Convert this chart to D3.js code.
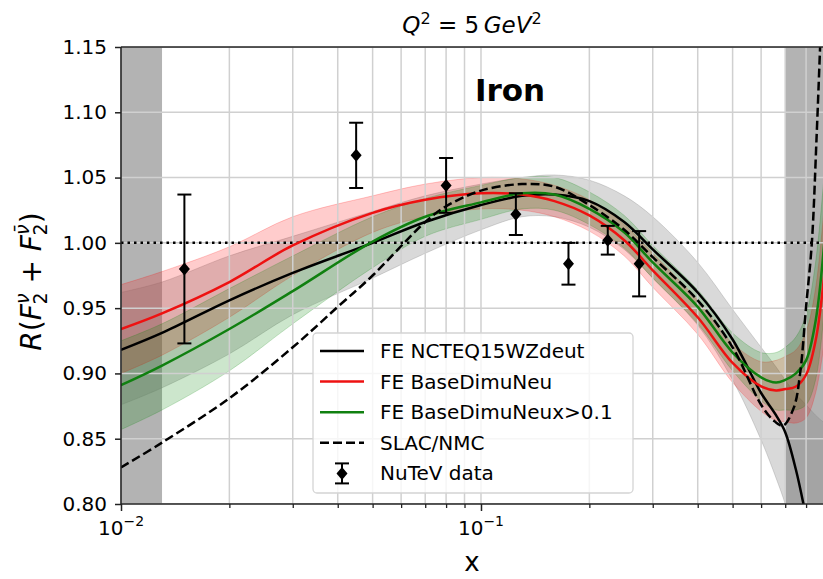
<!DOCTYPE html>
<html>
<head>
<meta charset="utf-8">
<script src="https://cdn.jsdelivr.net/npm/d3@7"></script>
<style>
    body { margin: 0; background: #fff; }
    svg text { font-family: "DejaVu Sans", sans-serif; fill: #000; }
</style>
</head>
<body>
<div id="chart"></div>
<script>

// x grid shared by the three FE curves
const xGrid = [0.01, 0.013, 0.02, 0.03, 0.05, 0.07, 0.1, 0.13, 0.16, 0.2, 0.25, 0.3, 0.4, 0.5, 0.6, 0.66, 0.7, 0.75, 0.8, 0.85, 0.9];

// FE NCTEQ15WZdeut
const ncteqMid  = [0.918, 0.931, 0.956, 0.977, 1.000, 1.016, 1.029, 1.036, 1.037, 1.032, 1.016, 0.995, 0.962, 0.926, 0.885, 0.868, 0.855, 0.826, 0.790, 0.752, 0.715];
const ncteqLow  = [0.876, 0.889, 0.915, 0.945, 0.973, 0.992, 1.010, 1.020, 1.020, 1.012, 0.995, 0.973, 0.937, 0.895, 0.849, 0.820, 0.800, 0.770, 0.740, 0.700, 0.670];
const ncteqHigh = [0.962, 0.970, 0.990, 1.005, 1.024, 1.036, 1.045, 1.050, 1.052, 1.048, 1.036, 1.020, 0.985, 0.949, 0.920, 0.905, 0.895, 0.884, 0.876, 0.868, 0.862];

// FE BaseDimuNeu
const baseMid  = [0.934, 0.946, 0.970, 0.998, 1.023, 1.033, 1.038, 1.037, 1.032, 1.021, 1.002, 0.979, 0.943, 0.908, 0.890, 0.887, 0.888, 0.890, 0.899, 0.925, 0.977];
const baseLow  = [0.900, 0.914, 0.943, 0.975, 1.008, 1.020, 1.026, 1.025, 1.020, 1.009, 0.990, 0.966, 0.930, 0.893, 0.871, 0.864, 0.863, 0.862, 0.866, 0.885, 0.925];
const baseHigh = [0.968, 0.978, 0.997, 1.020, 1.036, 1.045, 1.050, 1.049, 1.044, 1.033, 1.014, 0.992, 0.956, 0.923, 0.909, 0.910, 0.913, 0.918, 0.932, 0.965, 1.030];

// FE BaseDimuNeux>0.1
const cutMid  = [0.891, 0.906, 0.934, 0.963, 1.001, 1.020, 1.031, 1.038, 1.037, 1.026, 1.008, 0.985, 0.951, 0.916, 0.897, 0.893, 0.895, 0.900, 0.910, 0.940, 1.002];
const cutLow  = [0.857, 0.872, 0.902, 0.938, 0.981, 1.005, 1.018, 1.026, 1.025, 1.014, 0.996, 0.973, 0.938, 0.902, 0.879, 0.872, 0.872, 0.872, 0.876, 0.895, 0.950];
const cutHigh = [0.925, 0.938, 0.965, 0.990, 1.020, 1.034, 1.044, 1.050, 1.050, 1.039, 1.021, 0.998, 0.964, 0.931, 0.916, 0.916, 0.920, 0.928, 0.945, 0.985, 1.055];

// SLAC/NMC
const slacX = [0.01, 0.013, 0.02, 0.03, 0.04, 0.05, 0.07, 0.08, 0.1, 0.13, 0.16, 0.2, 0.25, 0.3, 0.4, 0.5, 0.6, 0.65, 0.69, 0.74, 0.77, 0.8, 0.83, 0.855, 0.875];
const slacY = [0.828, 0.847, 0.881, 0.920, 0.951, 0.975, 1.016, 1.028, 1.040, 1.045, 1.043, 1.029, 1.010, 0.989, 0.956, 0.920, 0.876, 0.864, 0.860, 0.874, 0.900, 0.951, 1.000, 1.079, 1.150];

// NuTeV data
const nutevX   = [0.015, 0.045, 0.080, 0.125, 0.175, 0.225, 0.275];
const nutevY   = [0.980, 1.067, 1.044, 1.022, 0.984, 1.002, 0.984];
const nutevErr = [0.057, 0.025, 0.021, 0.016, 0.016, 0.011, 0.025];

// axes
const yTicks = [0.80, 0.85, 0.90, 0.95, 1.00, 1.05, 1.10, 1.15];
const xMajor = [0.01, 0.1];
const xMajorExp = ["\u22122", "\u22121"];
const xMinor = [0.02, 0.03, 0.04, 0.05, 0.06, 0.07, 0.08, 0.09, 0.2, 0.3, 0.4, 0.5, 0.6, 0.7, 0.8];
const shadeRanges = [[0.01, 0.013], [0.7, 0.9]];

const legendLabels = ["FE NCTEQ15WZdeut", "FE BaseDimuNeu", "FE BaseDimuNeux>0.1", "SLAC/NMC", "NuTeV data"];


let width = 823, height = 579;
let plot = {left: 121, right: 824.5, top: 47, bottom: 504};

let svg = d3.select("#chart").append("svg")
    .attr("width", width)
    .attr("height", height);

let x = d3.scaleLog().domain([0.01, 0.9]).range([plot.left, plot.right]);
let y = d3.scaleLinear().domain([0.80, 1.15]).range([plot.bottom, plot.top]);

svg.append("clipPath").attr("id", "clip")
    .append("rect")
    .attr("x", plot.left).attr("y", plot.top)
    .attr("width", plot.right - plot.left).attr("height", plot.bottom - plot.top);

let g = svg.append("g").attr("clip-path", "url(#clip)");

// excluded regions
g.selectAll(".shade")
    .data(shadeRanges)
    .enter().append("rect")
    .attr("class", "shade")
    .attr("x", d => x(d[0]))
    .attr("width", d => x(d[1]) - x(d[0]))
    .attr("y", plot.top)
    .attr("height", plot.bottom - plot.top)
    .attr("fill", "rgba(128,128,128,0.6)");

// series
let series = [
    {mid: ncteqMid, low: ncteqLow, high: ncteqHigh, color: "#000000", band: "rgba(128,128,128,0.3)"},
    {mid: baseMid, low: baseLow, high: baseHigh, color: "#ee1111", band: "rgba(255,0,0,0.2)"},
    {mid: cutMid, low: cutLow, high: cutHigh, color: "#108010", band: "rgba(0,128,0,0.2)"}
];
series.forEach(s => {
    s.points = xGrid.map((xv, i) => ({x: xv, y: s.mid[i], lo: s.low[i], hi: s.high[i]}));
});

let area = d3.area()
    .x(d => x(d.x))
    .y0(d => y(d.lo))
    .y1(d => y(d.hi))
    .curve(d3.curveCatmullRom.alpha(0.5));

let line = d3.line()
    .x(d => x(d.x))
    .y(d => y(d.y))
    .curve(d3.curveCatmullRom.alpha(0.5));

g.selectAll(".band")
    .data(series)
    .enter().append("path")
    .attr("class", "band")
    .attr("d", d => area(d.points))
    .attr("fill", d => d.band)
    .attr("stroke", d => d.band)
    .attr("stroke-width", 1);

// grid
g.selectAll(".vgrid")
    .data(xMajor.concat(xMinor))
    .enter().append("line")
    .attr("class", "vgrid")
    .attr("x1", d => x(d)).attr("x2", d => x(d))
    .attr("y1", plot.top).attr("y2", plot.bottom)
    .attr("stroke", "#d0d0d0")
    .attr("stroke-width", 1.5);

g.selectAll(".hgrid")
    .data(yTicks)
    .enter().append("line")
    .attr("class", "hgrid")
    .attr("x1", plot.left).attr("x2", plot.right)
    .attr("y1", d => y(d)).attr("y2", d => y(d))
    .attr("stroke", "#d0d0d0")
    .attr("stroke-width", 1.5);

// unity line
g.append("line")
    .attr("x1", plot.left).attr("x2", plot.right)
    .attr("y1", y(1)).attr("y2", y(1))
    .attr("stroke", "#000")
    .attr("stroke-width", 2.5)
    .attr("stroke-dasharray", "2.5,4");

g.selectAll(".curve")
    .data(series)
    .enter().append("path")
    .attr("class", "curve")
    .attr("d", d => line(d.points))
    .attr("fill", "none")
    .attr("stroke", d => d.color)
    .attr("stroke-width", 2.5);

let slacPoints = slacX.map((xv, i) => ({x: xv, y: slacY[i]}));
g.append("path")
    .attr("d", line(slacPoints))
    .attr("fill", "none")
    .attr("stroke", "#000")
    .attr("stroke-width", 2.5)
    .attr("stroke-dasharray", "9,4");

// NuTeV points
let diamond = (cx, cy) => `M${cx},${cy - 6.5}L${cx + 5.5},${cy}L${cx},${cy + 6.5}L${cx - 5.5},${cy}Z`;

let nutev = nutevX.map((xv, i) => ({x: xv, y: nutevY[i], e: nutevErr[i]}));
let eb = svg.append("g").selectAll(".nutev")
    .data(nutev)
    .enter().append("g")
    .attr("class", "nutev");
eb.append("line")
    .attr("x1", d => x(d.x)).attr("x2", d => x(d.x))
    .attr("y1", d => y(d.y - d.e)).attr("y2", d => y(d.y + d.e));
eb.append("line")
    .attr("x1", d => x(d.x) - 7).attr("x2", d => x(d.x) + 7)
    .attr("y1", d => y(d.y + d.e)).attr("y2", d => y(d.y + d.e));
eb.append("line")
    .attr("x1", d => x(d.x) - 7).attr("x2", d => x(d.x) + 7)
    .attr("y1", d => y(d.y - d.e)).attr("y2", d => y(d.y - d.e));
eb.selectAll("line").attr("stroke", "#000").attr("stroke-width", 2);
eb.append("path")
    .attr("d", d => diamond(x(d.x), y(d.y)))
    .attr("fill", "#000");

// spines
let spines = svg.append("g").attr("stroke", "#222").attr("stroke-width", 1.6);
spines.append("line").attr("x1", plot.left).attr("x2", plot.left).attr("y1", plot.top).attr("y2", plot.bottom);
spines.append("line").attr("x1", plot.left).attr("x2", width).attr("y1", plot.bottom).attr("y2", plot.bottom);
spines.append("line").attr("x1", plot.left).attr("x2", width).attr("y1", plot.top).attr("y2", plot.top);

// y axis
let yAxis = svg.append("g")
    .attr("transform", `translate(${plot.left},0)`)
    .call(d3.axisLeft(y).tickValues(yTicks).tickFormat(d3.format(".2f")).tickSize(6).tickPadding(8));
yAxis.select(".domain").remove();
yAxis.selectAll(".tick line").attr("stroke", "#222").attr("stroke-width", 1.5);
yAxis.selectAll(".tick text").attr("font-size", 20).style("font-family", "DejaVu Sans");

// x axis: minor ticks
let xMinorAxis = svg.append("g")
    .attr("transform", `translate(0,${plot.bottom})`)
    .call(d3.axisBottom(x).tickValues(xMinor).tickFormat("").tickSize(4));
xMinorAxis.select(".domain").remove();
xMinorAxis.selectAll(".tick line").attr("stroke", "#222").attr("stroke-width", 1.3);

// x axis: major ticks with 10^n labels
let xMajorAxis = svg.append("g")
    .attr("transform", `translate(0,${plot.bottom})`)
    .call(d3.axisBottom(x).tickValues(xMajor).tickFormat("").tickSize(7));
xMajorAxis.select(".domain").remove();
xMajorAxis.selectAll(".tick line").attr("stroke", "#222").attr("stroke-width", 1.5);

let xLab = svg.selectAll(".xlab")
    .data(xMajor)
    .enter().append("text")
    .attr("class", "xlab")
    .attr("x", d => x(d))
    .attr("y", 535)
    .attr("text-anchor", "middle")
    .attr("font-size", 20);
xLab.append("tspan").text("10");
xLab.append("tspan").attr("font-size", 14).attr("dy", -9).text((d, i) => xMajorExp[i]);

// axis titles
svg.append("text")
    .attr("x", (plot.left + 823) / 2)
    .attr("y", 571)
    .attr("text-anchor", "middle")
    .attr("font-size", 26)
    .text("x");

let yl = svg.append("text")
    .attr("transform", `translate(41,${(plot.top + plot.bottom) / 2 + 6}) rotate(-90)`)
    .attr("text-anchor", "middle")
    .attr("font-size", 28);
yl.append("tspan").attr("font-style", "italic").text("R");
yl.append("tspan").text("(");
yl.append("tspan").attr("font-style", "italic").text("F");
yl.append("tspan").attr("font-style", "italic").attr("font-size", 19).attr("dy", -12).text("\u03bd");
yl.append("tspan").attr("font-size", 19).attr("dx", -11).attr("dy", 18).text("2");
yl.append("tspan").attr("dy", -6).text(" + ");
yl.append("tspan").attr("font-style", "italic").text("F");
yl.append("tspan").attr("font-style", "italic").attr("font-size", 19).attr("dy", -12).text("\u03bd\u0304");
yl.append("tspan").attr("font-size", 19).attr("dx", -11).attr("dy", 18).text("2");
yl.append("tspan").attr("dy", -6).text(")");

// title
let title = svg.append("text")
    .attr("x", (plot.left + 823) / 2)
    .attr("y", 33)
    .attr("text-anchor", "middle")
    .attr("font-size", 23);
title.append("tspan").attr("font-style", "italic").text("Q");
title.append("tspan").attr("font-size", 16).attr("dy", -9).text("2");
title.append("tspan").attr("dy", 9).text(" = 5\u2009");
title.append("tspan").attr("font-style", "italic").text("GeV");
title.append("tspan").attr("font-size", 16).attr("dy", -9).text("2");

// label
svg.append("text")
    .attr("x", 475)
    .attr("y", 101)
    .attr("font-size", 31)
    .attr("font-weight", "bold")
    .text("Iron");

// legend
let legend = svg.append("g").attr("transform", "translate(313,333)");
legend.append("rect")
    .attr("width", 320).attr("height", 160)
    .attr("rx", 4)
    .attr("fill", "rgba(255,255,255,0.8)")
    .attr("stroke", "#d4d4d4")
    .attr("stroke-width", 1.3);

let legendStyle = [
    {color: "#000000", dash: null},
    {color: "#ee1111", dash: null},
    {color: "#108010", dash: null},
    {color: "#000000", dash: "9,4"},
    {color: "#000000", dash: "errorbar"}
];

let items = legend.selectAll(".item")
    .data(legendLabels)
    .enter().append("g")
    .attr("class", "item")
    .attr("transform", (d, i) => `translate(0,${18 + i * 30.6})`);

items.each(function (d, i) {
    let it = d3.select(this);
    let st = legendStyle[i];
    if (st.dash === "errorbar") {
        it.append("line").attr("x1", 29).attr("x2", 29).attr("y1", -10).attr("y2", 10);
        it.append("line").attr("x1", 22).attr("x2", 36).attr("y1", -10).attr("y2", -10);
        it.append("line").attr("x1", 22).attr("x2", 36).attr("y1", 10).attr("y2", 10);
        it.selectAll("line").attr("stroke", "#000").attr("stroke-width", 2);
        it.append("path").attr("d", diamond(29, 0)).attr("fill", "#000");
    } else {
        it.append("line")
            .attr("x1", 7).attr("x2", 51)
            .attr("y1", 0).attr("y2", 0)
            .attr("stroke", st.color)
            .attr("stroke-width", 2.5)
            .attr("stroke-dasharray", st.dash);
    }
    it.append("text")
        .attr("x", 67)
        .attr("y", 7)
        .attr("font-size", 20)
        .text(d);
});

</script>
</body>
</html>
